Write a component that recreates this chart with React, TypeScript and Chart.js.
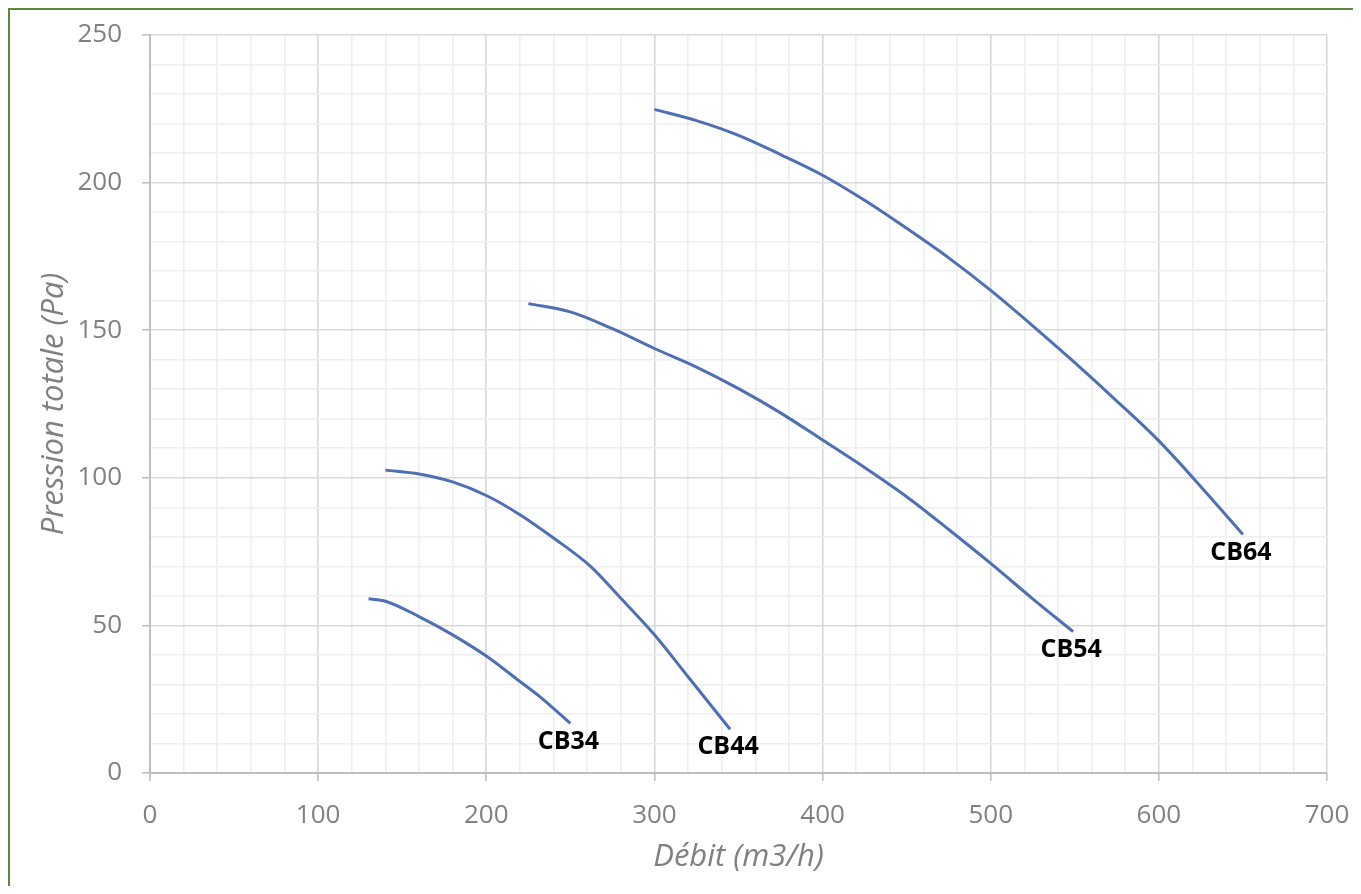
import React, { useEffect, useRef } from "react";
import { Chart, registerables } from "chart.js";

Chart.register(...registerables);

// ---- data ----
const seriesNames = ["CB34", "CB44", "CB54", "CB64"];

const cb34Flow = [130, 140, 160, 180, 200, 220, 232, 250];
const cb34Pressure = [59, 58.2, 53, 46.8, 39.6, 31, 25.8, 16.8];

const cb44Flow = [140, 160, 180, 200, 220, 240, 262, 280, 300, 320, 345];
const cb44Pressure = [102.6, 101.3, 98.6, 94, 87.5, 79.6, 70, 59.2, 46.8, 32.6, 14.8];

const cb54Flow = [225, 250, 275, 300, 325, 350, 375, 400, 425, 450, 475, 500, 525, 549];
const cb54Pressure = [159, 156.2, 150.5, 143.8, 137.5, 130.2, 122, 112.8, 103.5, 93.6, 82.5, 71, 59, 47.9];

const cb64Flow = [300, 325, 350, 375, 400, 425, 450, 475, 500, 525, 550, 575, 600, 625, 650];
const cb64Pressure = [224.8, 221, 216, 209.5, 202.5, 194, 184.5, 174.5, 163.5, 151.5, 139, 126, 112.5, 97, 80.8];

const xTickValues = [0, 100, 200, 300, 400, 500, 600, 700];
const yTickValues = [0, 50, 100, 150, 200, 250];

const xTitle = "Débit (m3/h)";
const yTitle = "Pression totale (Pa)";

// ---- styles ----
const lineColor = "#4e6fb3";
const gridMajor = "#d9d9d9";
const gridMinor = "#eeeeee";
const axisColor = "#bfbfbf";
const textGrey = "#808080";
const FONT = "'Open Sans', sans-serif";

const toPoints = (xs: number[], ys: number[]) => xs.map((x, i) => ({ x, y: ys[i] }));

const endLabelPlugin = {
  id: "endLabels",
  afterDatasetsDraw(chart: any) {
    const ctx = chart.ctx;
    ctx.save();
    ctx.font = `bold 25px ${FONT}`;
    ctx.fillStyle = "#000000";
    ctx.textAlign = "center";
    ctx.textBaseline = "middle";
    chart.data.datasets.forEach((ds: any, i: number) => {
      const meta = chart.getDatasetMeta(i);
      const last = meta.data[meta.data.length - 1];
      if (!last) return;
      ctx.fillText(ds.label, last.x - 2, last.y + 18);
    });
    ctx.restore();
  },
};

export default function App() {
  const canvasRef = useRef<HTMLCanvasElement | null>(null);

  useEffect(() => {
    if (!canvasRef.current) return;
    const series = [
      toPoints(cb34Flow, cb34Pressure),
      toPoints(cb44Flow, cb44Pressure),
      toPoints(cb54Flow, cb54Pressure),
      toPoints(cb64Flow, cb64Pressure),
    ];
    const chart = new Chart(canvasRef.current, {
      type: "line",
      data: {
        datasets: series.map((pts, i) => ({
          label: seriesNames[i],
          data: pts,
          borderColor: lineColor,
          borderWidth: 3,
          pointRadius: 0,
          fill: false,
          cubicInterpolationMode: "monotone" as const,
        })),
      },
      options: {
        animation: false,
        responsive: false,
        devicePixelRatio: 1,
        layout: { padding: { left: 20, top: 25, right: 26, bottom: 0 } },
        plugins: { legend: { display: false }, tooltip: { enabled: false } },
        scales: {
          x: {
            type: "linear",
            min: 0,
            max: 700,
            afterFit: (s: any) => {
              s.height = 113;
              s.paddingLeft = 0;
              s.paddingRight = 0;
            },
            ticks: {
              stepSize: 20,
              autoSkip: false,
              maxRotation: 0,
              padding: 19,
              color: textGrey,
              font: { family: FONT, size: 26 },
              callback: (v: any) => (xTickValues.includes(Number(v)) ? String(v) : ""),
            },
            grid: {
              color: (c: any) => (c.tick && xTickValues.includes(c.tick.value) ? gridMajor : gridMinor),
              lineWidth: 1.6,
              tickLength: 8,
              tickColor: (c: any) => (c.tick && xTickValues.includes(c.tick.value) ? axisColor : "rgba(0,0,0,0)"),
            },
            border: { color: axisColor, width: 2 },
            title: {
              display: true,
              text: xTitle,
              color: textGrey,
              font: { family: FONT, size: 31, style: "italic" },
              padding: { top: 0, bottom: 10 },
            },
          },
          y: {
            type: "linear",
            min: 0,
            max: 250,
            afterFit: (s: any) => {
              s.width = 120;
              s.paddingTop = 0;
              s.paddingBottom = 0;
            },
            ticks: {
              stepSize: 10,
              autoSkip: false,
              padding: 20,
              color: textGrey,
              font: { family: FONT, size: 26 },
              callback: (v: any) => (yTickValues.includes(Number(v)) ? String(v) : ""),
            },
            grid: {
              color: (c: any) => (c.tick && yTickValues.includes(c.tick.value) ? gridMajor : gridMinor),
              lineWidth: 1.6,
              tickLength: 8,
              tickColor: (c: any) => (c.tick && yTickValues.includes(c.tick.value) ? axisColor : "rgba(0,0,0,0)"),
            },
            border: { color: axisColor, width: 2 },
            title: {
              display: true,
              text: yTitle,
              color: textGrey,
              font: { family: FONT, size: 31, style: "italic" },
              padding: { top: 6, bottom: 0 },
            },
          },
        },
      },
      plugins: [endLabelPlugin],
    });
    return () => chart.destroy();
  }, []);

  return (
    <div
      style={{
        width: 1345,
        height: 878,
        boxSizing: "border-box",
        borderTop: "2px solid #5a8a3c",
        borderLeft: "2px solid #5a8a3c",
        background: "#ffffff",
      }}
    >
      <canvas ref={canvasRef} width={1343} height={876} style={{ display: "block", width: 1343, height: 876 }} />
    </div>
  );
}
